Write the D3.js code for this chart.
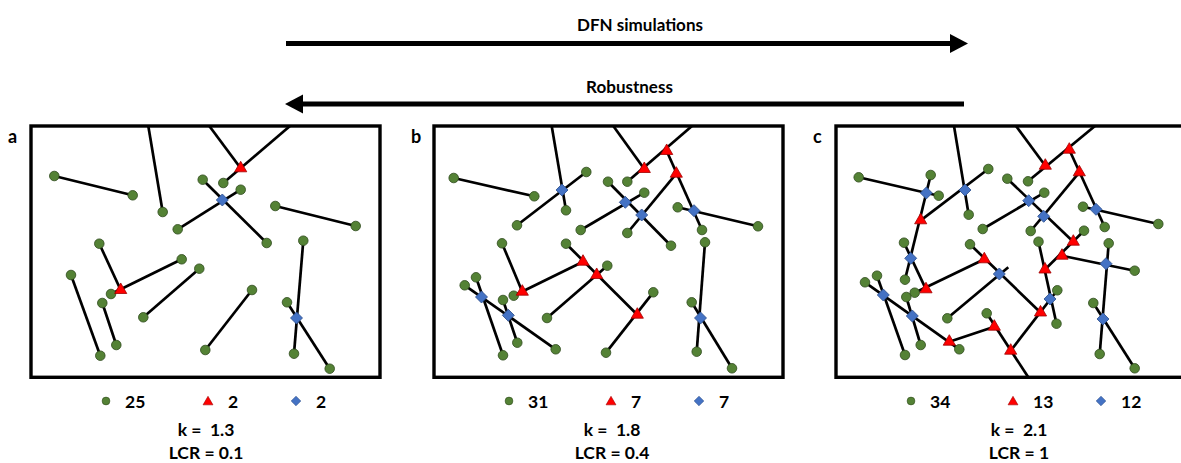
<!DOCTYPE html>
<html>
<head>
<meta charset="utf-8">
<script src="https://cdn.jsdelivr.net/npm/d3@7"></script>
<style>
  html, body { margin: 0; padding: 0; background: #fff; }
  svg { display: block; }
  text { font-family: Lato, "Open Sans", sans-serif; font-weight: 700; fill: #000; white-space: pre; }
</style>
</head>
<body>
<svg id="chart" width="1181" height="463"></svg>
<script>
// ---- Data: three fracture networks (local map units, origin = top-left of each map) ----
const panelLabels = ["a", "b", "c"];

// fractures as [x1, y1, x2, y2]
const fracturesA = [
  [23.3, 50, 101.7, 69.3], [117.3, 0, 131.7, 86], [146.7, 103.3, 209.7, 63.7],
  [171.7, 53.7, 235.7, 117], [178.3, 0, 209.7, 42.3], [259, 0, 192.3, 57],
  [244.3, 80, 324.7, 100], [68.3, 117.7, 89.7, 164], [150.7, 133.3, 80, 168],
  [40, 149, 69.3, 229.7], [71.3, 177, 85.3, 219], [112.3, 191.3, 168.3, 142.7],
  [221, 164, 174.3, 224], [272.3, 114.7, 263, 227.7], [256, 176.3, 298.7, 242.7]
];
const fracturesB = [
  [19.7, 52, 100.3, 70.3], [117.7, 0, 132, 84.3], [152.3, 46, 83, 99.3],
  [179.3, 0, 210.3, 43], [258, 0, 193.3, 55.7], [232.7, 25, 268, 104],
  [174, 55.7, 237, 119.7], [146.7, 104, 210.3, 66.7], [193.3, 107, 242.3, 47.7],
  [243.7, 81.3, 324, 100.3], [68, 117.3, 88.3, 165.7], [79.7, 169.7, 149, 135.7],
  [132, 117.7, 203.3, 188.7], [113, 192, 173.3, 139.7], [172, 226.7, 219.3, 166.3],
  [42, 151.3, 69, 229.3], [30.7, 159.3, 121.7, 223.3], [69, 174, 83.3, 216.7],
  [271, 116.3, 262.7, 225.7], [257.7, 176.3, 298, 242.3]
];
const fracturesC = [
  [22.7, 51.3, 102.7, 69.7], [94.7, 49, 69, 153.7], [152.3, 43, 84.7, 94.3],
  [118, 0, 132.7, 88.7], [68, 116.7, 90, 163.3], [78.7, 166.7, 148.3, 133.3],
  [134, 118.3, 204.5, 186.5], [111.3, 192.3, 172.3, 141.3], [150.7, 187.3, 192.3, 251.3],
  [113.3, 215.7, 158.3, 200.7], [29, 156.3, 123.3, 223.3], [41, 149.7, 69, 229],
  [70.3, 171, 84.7, 219], [174.7, 224.7, 221.3, 164.3], [202.5, 115.7, 220.5, 197.7],
  [248, 104.7, 209, 143.5], [226, 129.7, 298.7, 144.7], [272.7, 117.3, 263.7, 228],
  [257.3, 177, 298.7, 242.3], [171.3, 52.7, 237.3, 115.7], [146.7, 103, 208.3, 66.7],
  [194.7, 105, 243.3, 46.3], [180, 0, 209.3, 39.7], [259, 0, 192, 55.3],
  [233.3, 23.7, 268.7, 101], [247, 80.7, 322.3, 98]
];

// isolated tips (I nodes)
const tipsA = [
  [23.3, 50], [101.7, 69.3], [131.7, 86], [146.7, 103.3], [209.7, 63.7], [171.7, 53.7],
  [235.7, 117], [192.3, 57], [244.3, 80], [324.7, 100], [68.3, 117.7], [150.7, 133.3],
  [80, 168], [40, 149], [69.3, 229.7], [71.3, 177], [85.3, 219], [112.3, 191.3],
  [168.3, 142.7], [221, 164], [174.3, 224], [272.3, 114.7], [263, 227.7], [256, 176.3],
  [298.7, 242.7]
];
const tipsB = [
  [19.7, 52], [100.3, 70.3], [132, 84.3], [152.3, 46], [83, 99.3], [193.3, 55.7],
  [268, 104], [174, 55.7], [237, 119.7], [146.7, 104], [210.3, 66.7], [193.3, 107],
  [243.7, 81.3], [324, 100.3], [68, 117.3], [79.7, 169.7], [132, 117.7], [113, 192],
  [173.3, 139.7], [172, 226.7], [219.3, 166.3], [42, 151.3], [69, 229.3], [30.7, 159.3],
  [121.7, 223.3], [69, 174], [83.3, 216.7], [271, 116.3], [262.7, 225.7], [257.7, 176.3],
  [298, 242.3]
];
const tipsC = [
  [22.7, 51.3], [102.7, 69.7], [94.7, 49], [152.3, 43], [132.7, 88.7], [146.7, 103],
  [68, 116.7], [69, 153.7], [134, 118.3], [78.7, 166.7], [70.3, 171], [41, 149.7],
  [69, 229], [29, 156.3], [123.3, 223.3], [84.7, 219], [150.7, 187.3], [111.3, 192.3],
  [171.3, 52.7], [192, 55.3], [208.3, 66.7], [194.7, 105], [268.7, 101], [247, 80.7],
  [322.3, 98], [202.5, 115.7], [248, 104.7], [220.5, 197.7], [221.3, 164.3], [298.7, 144.7],
  [272.7, 117.3], [263.7, 228], [257.3, 177], [298.7, 242.3]
];

// abutting intersections (Y nodes)
const abutA = [[209.7, 42.3], [89.7, 164]];
const abutB = [
  [210.3, 43], [232.7, 25], [242.3, 47.7], [88.3, 165.7], [149, 135.7], [162.7, 149], [203.3, 188.7]
];
const abutC = [
  [84.7, 94.3], [90, 163.3], [148.3, 133.3], [113.3, 215.7], [158.3, 200.7], [174.7, 224.7],
  [204.5, 186.5], [209, 143.5], [226, 129.7], [237.3, 115.7], [209.3, 39.7], [233.3, 23.7],
  [243.3, 46.3]
];

// crossing intersections (X nodes)
const crossA = [[191.3, 74], [265.5, 192]];
const crossB = [
  [128, 64], [191.3, 76.3], [207.7, 89], [260, 84.7], [47.5, 171], [74.3, 189.3], [266.5, 192]
];
const crossC = [
  [90.3, 67], [129, 64], [74.7, 132.3], [163.3, 148], [47.3, 169], [76.3, 190],
  [192.7, 74.7], [207.7, 90.3], [260, 83.3], [270, 137.7], [267, 193], [214, 173]
];

// node counts and network statistics
const countI = [25, 31, 34];
const countY = [2, 7, 13];
const countX = [2, 7, 12];
const kValues = ["1.3", "1.8", "2.1"];
const lcrValues = ["0.1", "0.4", "1"];

const titleTop = "DFN simulations";
const titleBottom = "Robustness";

// ---- Layout ----
const mapW = 349, mapH = 251.3;
const mapLeft = [31, 434, 836];
const mapTop = 126;
const statCenter = [175, 178, 183];

const colors = {
  I: { fill: "#548235", stroke: "#2f4a1d" },
  Y: { fill: "#ff0000", stroke: "#a00000" },
  X: { fill: "#4472c4", stroke: "#2f528f" }
};

const svg = d3.select("#chart");

const panels = [
  { frac: fracturesA, tips: tipsA, abut: abutA, cross: crossA },
  { frac: fracturesB, tips: tipsB, abut: abutB, cross: crossB },
  { frac: fracturesC, tips: tipsC, abut: abutC, cross: crossC }
];

const triSym = d3.symbol(d3.symbolTriangle, 64);
const diaSym = d3.symbol(d3.symbolSquare, 72);
const triSymSmall = d3.symbol(d3.symbolTriangle, 42);
const diaSymSmall = d3.symbol(d3.symbolSquare, 46);

// ---- Arrows with captions ----
const arrowX = d3.scaleLinear().domain([0, 1]).range([287, 968]);
function arrow(y, dir) {
  const x0 = arrowX(0), x1 = arrowX(1);
  const tail = dir > 0 ? x0 - 1 : x1 - 4;
  const tip = dir > 0 ? x1 : x0 - 2;
  const headBase = tip - dir * 18;
  svg.append("line")
    .attr("x1", tail).attr("x2", headBase + dir * 2)
    .attr("y1", y).attr("y2", y)
    .attr("stroke", "#000").attr("stroke-width", 5);
  svg.append("path")
    .attr("d", `M${tip},${y} L${headBase},${y - 9.5} L${headBase},${y + 9.5} Z`)
    .attr("fill", "#000");
}
arrow(43.5, 1);
arrow(104, -1);
svg.append("text").attr("x", 640).attr("y", 30.5).attr("text-anchor", "middle")
  .attr("font-size", 17).text(titleTop);
svg.append("text").attr("x", 629.5).attr("y", 93).attr("text-anchor", "middle")
  .attr("font-size", 17).text(titleBottom);

// ---- Panels ----
panels.forEach((p, i) => {
  const x = d3.scaleLinear().domain([0, mapW]).range([mapLeft[i], mapLeft[i] + mapW]);
  const y = d3.scaleLinear().domain([0, mapH]).range([mapTop, mapTop + mapH]);
  const g = svg.append("g");

  const clipId = "clip-" + panelLabels[i];
  svg.append("clipPath").attr("id", clipId)
    .append("rect").attr("x", x(0)).attr("y", y(0))
    .attr("width", x(mapW) - x(0)).attr("height", y(mapH) - y(0));

  const inner = g.append("g").attr("clip-path", `url(#${clipId})`);

  inner.selectAll("line.frac").data(p.frac).join("line")
    .attr("class", "frac")
    .attr("x1", d => x(d[0])).attr("y1", d => y(d[1]))
    .attr("x2", d => x(d[2])).attr("y2", d => y(d[3]))
    .attr("stroke", "#000").attr("stroke-width", 2.7);

  inner.selectAll("circle.tip").data(p.tips).join("circle")
    .attr("class", "tip")
    .attr("cx", d => x(d[0])).attr("cy", d => y(d[1])).attr("r", 4.8)
    .attr("fill", colors.I.fill).attr("stroke", colors.I.stroke).attr("stroke-width", 0.8);

  inner.selectAll("path.abut").data(p.abut).join("path")
    .attr("class", "abut")
    .attr("d", triSym)
    .attr("transform", d => `translate(${x(d[0])},${y(d[1])})`)
    .attr("fill", colors.Y.fill).attr("stroke", colors.Y.stroke).attr("stroke-width", 0.8);

  inner.selectAll("path.cross").data(p.cross).join("path")
    .attr("class", "cross")
    .attr("d", diaSym)
    .attr("transform", d => `translate(${x(d[0])},${y(d[1])}) rotate(45)`)
    .attr("fill", colors.X.fill).attr("stroke", colors.X.stroke).attr("stroke-width", 0.8);

  // map frame
  g.append("rect")
    .attr("x", x(0)).attr("y", y(0))
    .attr("width", x(mapW) - x(0)).attr("height", y(mapH) - y(0))
    .attr("fill", "none").attr("stroke", "#000").attr("stroke-width", 3.4);

  // panel letter
  svg.append("text").attr("x", mapLeft[i] - 23).attr("y", 143)
    .attr("font-size", 18).text(panelLabels[i]);

  // node-count legend
  const x0 = mapLeft[i];
  const ly = 401;
  const lg = svg.append("g");
  lg.append("circle").attr("cx", x0 + 75).attr("cy", ly).attr("r", 3.9)
    .attr("fill", colors.I.fill).attr("stroke", colors.I.stroke).attr("stroke-width", 0.6);
  lg.append("text").attr("x", x0 + 94).attr("y", 407.5).attr("font-size", 17.5).text(countI[i]);
  lg.append("path").attr("d", triSymSmall)
    .attr("transform", `translate(${x0 + 177},${ly + 1})`)
    .attr("fill", colors.Y.fill).attr("stroke", colors.Y.stroke).attr("stroke-width", 0.6);
  lg.append("text").attr("x", x0 + 197).attr("y", 407.5).attr("font-size", 17.5).text(countY[i]);
  lg.append("path").attr("d", diaSymSmall)
    .attr("transform", `translate(${x0 + 265},${ly}) rotate(45)`)
    .attr("fill", colors.X.fill).attr("stroke", colors.X.stroke).attr("stroke-width", 0.6);
  lg.append("text").attr("x", x0 + 285).attr("y", 407.5).attr("font-size", 17.5).text(countX[i]);

  // network statistics
  svg.append("text").attr("x", x0 + statCenter[i]).attr("y", 436)
    .attr("text-anchor", "middle").attr("font-size", 17.5).text("k =  " + kValues[i]);
  svg.append("text").attr("x", x0 + statCenter[i]).attr("y", 459)
    .attr("text-anchor", "middle").attr("font-size", 17.5).text("LCR = " + lcrValues[i]);
});
</script>
</body>
</html>
